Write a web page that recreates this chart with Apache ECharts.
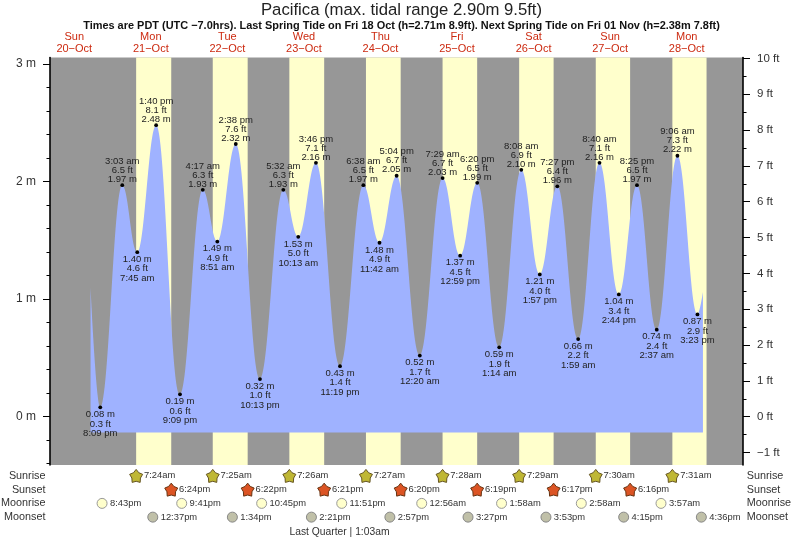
<!DOCTYPE html>
<html><head><meta charset="utf-8">
<style>html,body{margin:0;padding:0;background:#fff;overflow:hidden}#c{width:793px;height:539px}</style>
<script src="https://cdn.jsdelivr.net/npm/echarts@6/dist/echarts.min.js"></script>
</head><body><div id="c"></div>
<script>
const titleText = 'Pacifica (max. tidal range 2.90m 9.5ft)';
const subtitleText = 'Times are PDT (UTC −7.0hrs). Last Spring Tide on Fri 18 Oct (h=2.71m 8.9ft). Next Spring Tide on Fri 01 Nov (h=2.38m 7.8ft)';
const phaseText = 'Last Quarter | 1:03am';
const dayNames = ['Sun','Mon','Tue','Wed','Thu','Fri','Sat','Sun','Mon'];
const dayDates = ['20−Oct','21−Oct','22−Oct','23−Oct','24−Oct','25−Oct','26−Oct','27−Oct','28−Oct'];
const tideDays = [0,1,1,1,1,2,2,2,2,3,3,3,3,4,4,4,5,5,5,5,6,6,6,6,7,7,7,7,8,8,8];
const tideTimes = ['8:09 pm','3:03 am','7:45 am','1:40 pm','9:09 pm','4:17 am','8:51 am','2:38 pm','10:13 pm','5:32 am','10:13 am','3:46 pm','11:19 pm','6:38 am','11:42 am','5:04 pm','12:20 am','7:29 am','12:59 pm','6:20 pm','1:14 am','8:08 am','1:57 pm','7:27 pm','1:59 am','8:40 am','2:44 pm','8:25 pm','2:37 am','9:06 am','3:23 pm'];
const tideMetres = ['0.08','1.97','1.40','2.48','0.19','1.93','1.49','2.32','0.32','1.93','1.53','2.16','0.43','1.97','1.48','2.05','0.52','2.03','1.37','1.99','0.59','2.10','1.21','1.96','0.66','2.16','1.04','1.97','0.74','2.22','0.87'];
const tideFeet = ['0.3','6.5','4.6','8.1','0.6','6.3','4.9','7.6','1.0','6.3','5.0','7.1','1.4','6.5','4.9','6.7','1.7','6.7','4.5','6.5','1.9','6.9','4.0','6.4','2.2','7.1','3.4','6.5','2.4','7.3','2.9'];
// where the drawn curve begins and ends [hours from 20 Oct 00:00, metres]
const curveStart = [17.1, 1.10];
const curveEnd = [209.1, 1.06];
const sunriseDays = [1,2,3,4,5,6,7,8];
const sunriseTimes = ['7:24am','7:25am','7:26am','7:27am','7:28am','7:29am','7:30am','7:31am'];
const sunsetDays = [1,2,3,4,5,6,7];
const sunsetTimes = ['6:24pm','6:22pm','6:21pm','6:20pm','6:19pm','6:17pm','6:16pm'];
const lastDaySunset = '6:14pm';
const moonriseDays = [0,1,2,3,5,6,7,8];
const moonriseTimes = ['8:43pm','9:41pm','10:45pm','11:51pm','12:56am','1:58am','2:58am','3:57am'];
const moonsetDays = [1,2,3,4,5,6,7,8];
const moonsetTimes = ['12:37pm','1:34pm','2:21pm','2:57pm','3:27pm','3:53pm','4:15pm','4:36pm'];
const metreTicks = [0,1,2,3];
const metreMinorTicks = [-0.4,-0.2,0.2,0.4,0.6,0.8,1.2,1.4,1.6,1.8,2.2,2.4,2.6,2.8];
const footTicks = [-1,0,1,2,3,4,5,6,7,8,9,10];
const footMinorTicks = [-0.5,0.5,1.5,2.5,3.5,4.5,5.5,6.5,7.5,8.5,9.5];
const rowNames = ['Sunrise','Sunset','Moonrise','Moonset'];
function hours(day, t){
  const m = t.match(/(\d+):(\d+)\s*(am|pm)/);
  let h = (+m[1]) % 12; if (m[3]==='pm') h += 12;
  return day*24 + h + (+m[2])/60;
}
const tideX = tideTimes.map((t,i)=>hours(tideDays[i],t));
const curve = [curveStart].concat(tideX.map((x,i)=>[x,+tideMetres[i]]),[curveEnd]);
const xMin = 4.39, xMax = 221.66;
const yMin = -0.411, yMax = 3.056, base = -0.134;
const FT = 0.3048;
const font = '"Liberation Sans", Arial, sans-serif';
const dayBands = sunriseTimes.map((t,i)=>{
  const a = hours(sunriseDays[i],t);
  const s = i<sunsetTimes.length ? hours(sunsetDays[i],sunsetTimes[i]) : hours(8,lastDaySunset);
  return [{xAxis:a},{xAxis:s}];
});
const tidePts = tideX.map((x,i)=>({
  value:[x,+tideMetres[i]],
  label:{
    position: i%2===0 ? 'bottom':'top',
    distance: i%2===0 ? 0.5 : -0.5,
    lineHeight: i%2===0 ? 9.5 : 9,
    formatter: i%2===0
      ? `${tideMetres[i]} m\n${tideFeet[i]} ft\n${tideTimes[i]}`
      : `${tideTimes[i]}\n${tideFeet[i]} ft\n${tideMetres[i]} m`
  }
}));
function rowSeries(row, days, times, symbol, size, color, border, dist){
  return {
    type:'scatter', xAxisIndex:1, yAxisIndex:4, symbol, symbolSize:size, silent:true, z:4,
    itemStyle:{color, borderColor:border, borderWidth:1, opacity:1},
    label:{show:true, position:'right', distance:dist, offset:[0,0.8], color:'#333', fontSize:9.4, fontFamily:font,
      formatter:p=>p.data[2]},
    labelLayout:{hideOverlap:false},
    data:days.map((d,i)=>[hours(d,times[i]), row, times[i]])
  };
}
const star = 'path://M50 2 L69.4 25.3 L97.6 36.5 L81.4 62.2 L79.4 92.5 L50 85 L20.6 92.5 L18.6 62.2 L2.4 36.5 L30.6 25.3 Z';
function side(position, ticks, minor, min, max, fmt){
  return [
    {type:'value', gridIndex:0, position, min, max, splitLine:{show:false},
     axisLine:{show:true,onZero:false,lineStyle:{color:'#000',width:1.6}},
     axisTick:{show:true,length:7,lineStyle:{color:'#000',width:1},customValues:ticks},
     axisLabel:{show:true,color:'#333',fontSize:position==='left'?12:11.5,fontFamily:font,margin:14,
       customValues:ticks,formatter:fmt}},
    {type:'value', gridIndex:0, position, min, max, splitLine:{show:false},
     axisLine:{show:false},
     axisTick:{show:true,length:3.5,lineStyle:{color:'#000',width:1},customValues:minor},
     axisLabel:{show:false}}
  ];
}
const chart = echarts.init(document.getElementById('c'),null,{renderer:'canvas'});
chart.setOption({
  animation:false,
  backgroundColor:'#fff',
  title:[
    {text:titleText,left:396.5,top:-3,textAlign:'center',textStyle:{fontFamily:font,fontSize:16.7,fontWeight:'normal',color:'#222'}},
    {text:subtitleText,left:396.5,top:15,textAlign:'center',textStyle:{fontFamily:font,fontSize:10.95,fontWeight:'bold',color:'#111'}},
    {text:phaseText,left:334.5,top:522,textAlign:'center',textStyle:{fontFamily:font,fontSize:10.3,fontWeight:'normal',color:'#333'}}
  ],
  grid:[
    {left:50,right:50,top:57.5,height:407.5,backgroundColor:'#979797',show:true,borderWidth:0,outerBoundsMode:'none'},
    {left:50,right:50,top:469,height:55,show:false,outerBoundsMode:'none'}
  ],
  xAxis:[
    {type:'value',gridIndex:0,position:'top',min:xMin,max:xMax,splitLine:{show:false},
     axisLine:{show:false},axisTick:{show:false},
     axisLabel:{show:true,interval:0,color:'#cc2a10',fontSize:11,lineHeight:12,fontFamily:font,margin:3,
       customValues:dayNames.map((_,i)=>i*24+12),
       formatter:v=>{const i=Math.round((v-12)/24);return dayNames[i]+'\n'+dayDates[i];}}},
    {type:'value',gridIndex:1,min:xMin,max:xMax,show:false}
  ],
  yAxis:[
    ...side('left',metreTicks,metreMinorTicks,yMin,yMax,v=>v+' m'),
    ...side('right',footTicks,footMinorTicks,yMin/FT,yMax/FT,v=>(v<0?'−'+(-v):v)+' ft'),
    {type:'category',gridIndex:1,position:'left',inverse:true,data:rowNames,
     axisLine:{show:false},axisTick:{show:false},
     axisLabel:{interval:0,color:'#333',fontSize:10.8,fontFamily:font,margin:4.5,padding:[2,0,0,0]}},
    {type:'category',gridIndex:1,position:'right',inverse:true,data:rowNames,
     axisLine:{show:false},axisTick:{show:false},
     axisLabel:{interval:0,color:'#333',fontSize:10.8,fontFamily:font,margin:3.7,padding:[2,0,0,0]}}
  ],
  series:[
    {type:'line',name:'daylight',xAxisIndex:0,yAxisIndex:0,data:[],silent:true,z:1,
     markArea:{silent:true,itemStyle:{color:'#ffffcc'},data:dayBands}},
    {type:'line',name:'tide',xAxisIndex:0,yAxisIndex:0,data:curve,z:2,silent:true,
     smooth:0.4,smoothMonotone:'x',showSymbol:false,
     lineStyle:{width:0},
     areaStyle:{color:'#9fb2ff',opacity:1,origin:base}},
    {type:'scatter',name:'extrema',xAxisIndex:0,yAxisIndex:0,z:3,silent:true,
     symbol:'circle',symbolSize:3.8,itemStyle:{color:'#000',opacity:1},
     label:{show:true,color:'#222',fontSize:9.5,fontFamily:font},
     labelLayout:{hideOverlap:false},
     data:tidePts},
    rowSeries(0,sunriseDays,sunriseTimes,star,13,'#bfb735','#665522',0.8),
    rowSeries(1,sunsetDays,sunsetTimes,star,13,'#dc5424','#663311',0.8),
    rowSeries(2,moonriseDays,moonriseTimes,'circle',10,'#ffffcc','#999',2.4),
    rowSeries(3,moonsetDays,moonsetTimes,'circle',10,'#c0c0a8','#888',2.4)
  ]
});
</script></body></html>
